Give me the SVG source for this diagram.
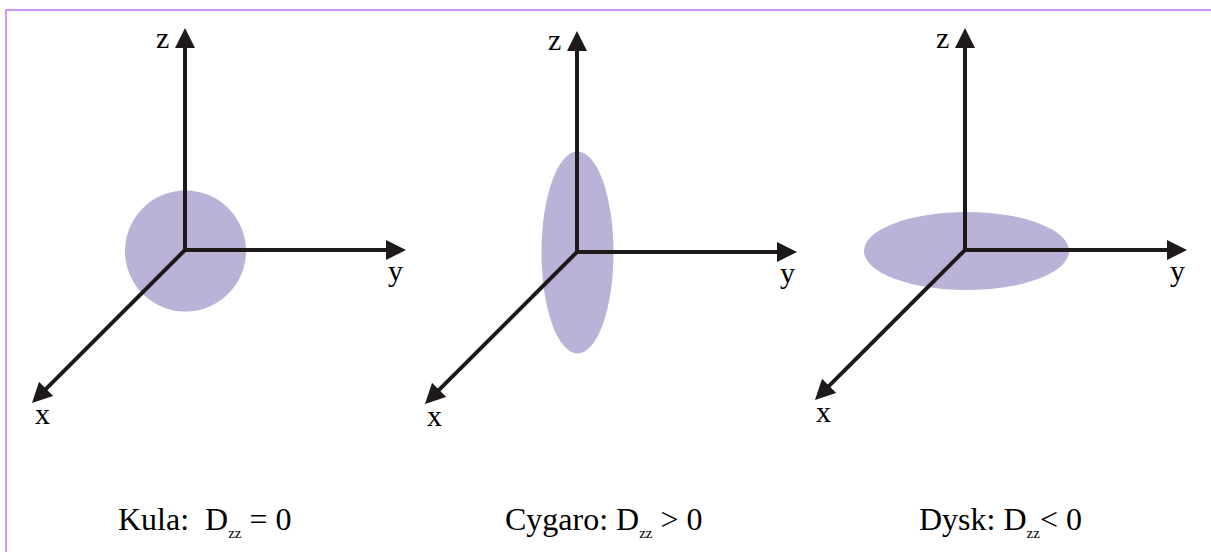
<svg xmlns="http://www.w3.org/2000/svg" width="1211" height="552" viewBox="0 0 1211 552">
<defs>
<style>
.ax{stroke:#1e1a1a;stroke-width:4;fill:none;marker-end:url(#ah)}
.blob{fill:#bab2d7}
.lbl{font-family:"Liberation Serif","Times New Roman",serif;font-size:30px;fill:#000}
.cap{font-family:"Liberation Serif","Times New Roman",serif;font-size:32px;fill:#000}
.sub{font-size:15px}
</style>
<marker id="ah" viewBox="0 -10 20 20" refX="4" refY="0" markerWidth="20" markerHeight="20" markerUnits="userSpaceOnUse" orient="auto">
<path d="M0,-10 L20,0 L0,10 Z" fill="#1e1a1a"/>
</marker>
</defs>
<rect x="0" y="0" width="1211" height="552" fill="#fff"/>
<path d="M6,552 V10 H1211" stroke="#cc99ff" stroke-width="2" fill="none"/>

<g id="kula">
<circle class="blob" cx="185.5" cy="251" r="60.5"/>
<text class="lbl" x="156" y="48">z</text>
<text class="lbl" x="388" y="281">y</text>
<text class="lbl" x="35" y="424">x</text>
<text class="cap" x="118" y="530" xml:space="preserve">Kula:  D<tspan class="sub" dy="8">zz</tspan><tspan dy="-8"> = 0</tspan></text>
</g>

<g id="cygaro">
<ellipse class="blob" cx="577.5" cy="252.5" rx="36" ry="101"/>
<text class="lbl" x="548" y="50">z</text>
<text class="lbl" x="780" y="283">y</text>
<text class="lbl" x="427" y="426">x</text>
<text class="cap" x="505" y="530" xml:space="preserve">Cygaro: D<tspan class="sub" dy="8">zz</tspan><tspan dy="-8"> &gt; 0</tspan></text>
</g>

<g id="dysk">
<ellipse class="blob" cx="966.5" cy="251" rx="102.5" ry="39"/>
<text class="lbl" x="936" y="48">z</text>
<text class="lbl" x="1170" y="281">y</text>
<text class="lbl" x="816" y="422">x</text>
<text class="cap" x="919" y="530" xml:space="preserve">Dysk: D<tspan class="sub" dy="8">zz</tspan><tspan dy="-8">&lt; 0</tspan></text>
</g>

<g id="connectors">
<path class="ax" d="M185,250 V44"/>
<path class="ax" d="M185,250 H390"/>
<path class="ax" d="M185,250 L43.3,391.7"/>
<path class="ax" d="M577,252 V47"/>
<path class="ax" d="M577,252 H781"/>
<path class="ax" d="M577,252 L436.3,392.7"/>
<path class="ax" d="M965,250 V44"/>
<path class="ax" d="M965,250 H1171"/>
<path class="ax" d="M965,250 L826.3,388.7"/>
</g>
</svg>
